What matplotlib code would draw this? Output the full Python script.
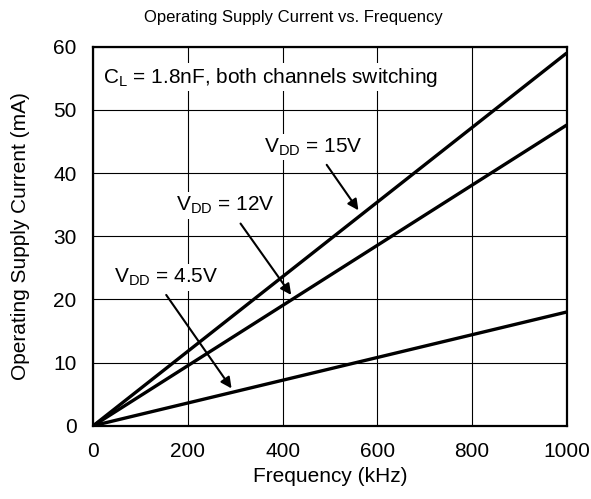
import matplotlib
matplotlib.use("Agg")
import matplotlib.pyplot as plt

plt.rcParams['font.family'] = ['Liberation Sans', 'DejaVu Sans']
plt.rcParams['mathtext.fontset'] = 'custom'
plt.rcParams['mathtext.rm'] = 'Liberation Sans'
plt.rcParams['mathtext.it'] = 'Liberation Sans'

freq = [0, 1000]
i_15v = [0, 59.0]
i_12v = [0, 47.6]
i_4v5 = [0, 18.0]
xticks = [0, 200, 400, 600, 800, 1000]
yticks = [0, 10, 20, 30, 40, 50, 60]

fig = plt.figure(figsize=(5.91, 4.99), dpi=100)
ax = fig.add_axes([0.1579, 0.1469, 0.801, 0.7595])

ax.set_xlim(0, 1000)
ax.set_ylim(0, 60)
ax.set_xticks(xticks)
ax.set_yticks(yticks)
ax.grid(True, color='black', lw=0.8)
ax.set_axisbelow(True)
ax.tick_params(length=0, labelsize=15, pad=12)
for s in ax.spines.values():
    s.set_linewidth(1.6)

for y in (i_15v, i_12v, i_4v5):
    ax.plot(freq, y, color='black', lw=2.4, solid_capstyle='butt', zorder=3)

bb = dict(facecolor='white', edgecolor='none', pad=2)
ax.text(21, 55.2, r'C$_\mathrm{L}$ = 1.8nF, both channels switching', fontsize=15,
        ha='left', va='center', bbox=bb, zorder=4)
ax.text(464, 44.1, r'V$_\mathrm{DD}$ = 15V', fontsize=15, ha='center', va='center', bbox=bb, zorder=4)
ax.text(278, 34.9, r'V$_\mathrm{DD}$ = 12V', fontsize=15, ha='center', va='center', bbox=bb, zorder=4)
ax.text(154, 23.5, r'V$_\mathrm{DD}$ = 4.5V', fontsize=15, ha='center', va='center', bbox=bb, zorder=4)

ap = dict(arrowstyle='-|>', color='black', lw=1.5, mutation_scale=16, shrinkA=0, shrinkB=0)
ax.annotate('', xy=(560, 34.1), xytext=(493, 41.3), arrowprops=ap, zorder=5)
ax.annotate('', xy=(418, 20.7), xytext=(311, 32.0), arrowprops=ap, zorder=5)
ax.annotate('', xy=(292, 5.9), xytext=(154, 20.7), arrowprops=ap, zorder=5)

fig.text(0.497, 1 - 17.5 / 499, 'Operating Supply Current vs. Frequency', fontsize=12,
         ha='center', va='center')
ax.set_xlabel('Frequency (kHz)', fontsize=15, labelpad=4)
ax.set_ylabel('Operating Supply Current (mA)', fontsize=15, labelpad=17)

fig.savefig('out.png', dpi=100)
